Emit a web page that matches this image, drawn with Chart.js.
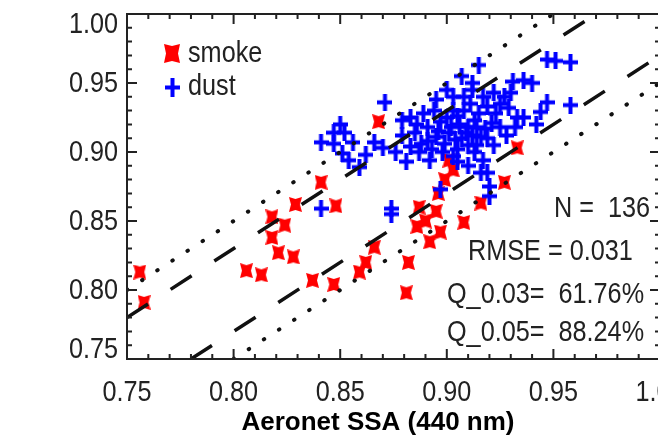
<!DOCTYPE html>
<html>
<head>
<meta charset="utf-8">
<script src="https://cdn.jsdelivr.net/npm/chart.js@4"></script>
<style>
  html, body { margin: 0; padding: 0; background: #fff; overflow: hidden; }
  #wrap { width: 720px; height: 438px; }
</style>
</head>
<body>
<div id="wrap"><canvas id="ssa"></canvas></div>
<script>
// smoke points (red)
const smokeX = [0.756, 0.758, 0.806, 0.813, 0.818, 0.824, 0.818, 0.821, 0.828, 0.829,
                0.837, 0.841, 0.848, 0.847, 0.868, 0.887, 0.886, 0.895, 0.892, 0.897,
                0.896, 0.908, 0.916, 0.866, 0.862, 0.859, 0.882, 0.881, 0.901, 0.903,
                0.933, 0.927, 0.890, 0.899];
const smokeY = [0.813, 0.791, 0.814, 0.811, 0.853, 0.847, 0.838, 0.827, 0.824, 0.862,
                0.807, 0.878, 0.861, 0.804, 0.922, 0.860, 0.846, 0.857, 0.835, 0.842,
                0.870, 0.849, 0.863, 0.831, 0.820, 0.813, 0.820, 0.798, 0.894, 0.887,
                0.903, 0.878, 0.850, 0.880];

// dust points (blue)
const dustX = [0.841, 0.847, 0.850, 0.852, 0.847, 0.856, 0.851, 0.854, 0.859, 0.866,
               0.841, 0.874, 0.871, 0.879, 0.915, 0.907, 0.947, 0.958, 0.951, 0.903,
               0.895, 0.912, 0.931, 0.936, 0.940, 0.930, 0.947, 0.958, 0.936, 0.942,
               0.883, 0.889, 0.883, 0.891, 0.900, 0.908, 0.913, 0.919, 0.923, 0.927,
               0.909, 0.916, 0.904, 0.917, 0.919, 0.892, 0.920, 0.901, 0.895, 0.933,
               0.921, 0.920, 0.874, 0.897, 0.885, 0.888, 0.893, 0.898, 0.905, 0.910,
               0.913, 0.906, 0.911, 0.903, 0.897, 0.915, 0.918, 0.925, 0.910, 0.902,
               0.907, 0.912, 0.886, 0.879, 0.917, 0.922, 0.929, 0.910, 0.905, 0.914,
               0.899, 0.922, 0.928, 0.944, 0.900, 0.912, 0.894, 0.862, 0.870, 0.876,
               0.881, 0.916, 0.896, 0.905, 0.914, 0.903, 0.925, 0.919, 0.891, 0.908,
               0.932, 0.887];
const dustY = [0.907, 0.914, 0.920, 0.914, 0.906, 0.907, 0.899, 0.894, 0.889, 0.907,
               0.859, 0.859, 0.936, 0.923, 0.963, 0.955, 0.967, 0.965, 0.966, 0.940,
               0.938, 0.945, 0.951, 0.952, 0.950, 0.943, 0.936, 0.934, 0.925, 0.920,
               0.925, 0.928, 0.904, 0.918, 0.925, 0.930, 0.923, 0.933, 0.928, 0.940,
               0.914, 0.911, 0.909, 0.894, 0.885, 0.894, 0.875, 0.914, 0.911, 0.925,
               0.921, 0.868, 0.855, 0.873, 0.914, 0.906, 0.902, 0.900, 0.902, 0.905,
               0.900, 0.920, 0.935, 0.930, 0.922, 0.928, 0.917, 0.918, 0.918, 0.918,
               0.910, 0.912, 0.920, 0.912, 0.940, 0.943, 0.932, 0.890, 0.893, 0.905,
               0.906, 0.905, 0.912, 0.929, 0.945, 0.950, 0.930, 0.898, 0.903, 0.900,
               0.893, 0.885, 0.915, 0.926, 0.918, 0.897, 0.935, 0.910, 0.908, 0.940,
               0.918, 0.900];

const tickValues = [0.75, 0.80, 0.85, 0.90, 0.95, 1.00];
const tickLabels = ['0.75', '0.80', '0.85', '0.90', '0.95', '1.00'];
const dashedOffsets = [0.03, -0.03];
const dottedOffsets = [0.05, -0.05];
const statLines = ['N =  136', 'RMSE = 0.031', 'Q_0.03=  61.76%', 'Q_0.05=  88.24%'];
const legendNames = ['smoke', 'dust'];
const axisTitle = 'Aeronet SSA (440 nm)';

const lo = 0.75, hi = 1.0;

function makeMarker(kind, w, h) {
    const c = document.createElement('canvas');
    c.width = w; c.height = h;
    const g = c.getContext('2d');
    if (kind === 'x') {
        // blocky filled "X" like the IDL symbol
        const n = 2;
        g.fillStyle = '#f00';
        g.beginPath();
        g.moveTo(0, 0); g.lineTo(w / 2, n); g.lineTo(w, 0); g.lineTo(w - n, h / 2);
        g.lineTo(w, h); g.lineTo(w / 2, h - n); g.lineTo(0, h); g.lineTo(n, h / 2);
        g.closePath();
        g.fill();
    } else {
        g.strokeStyle = '#00f';
        g.lineWidth = 4;
        g.beginPath();
        g.moveTo(w / 2, 0); g.lineTo(w / 2, h);
        g.moveTo(0, h / 2); g.lineTo(w, h / 2);
        g.stroke();
    }
    return c;
}

const smokeMark = makeMarker('x', 13, 15);
const dustMark = makeMarker('+', 15, 17);

function toPoints(xs, ys) {
    return xs.map((v, i) => ({ x: v, y: ys[i] }));
}

// one-to-one offset lines, cut at the plot box
function refLine(off, dash, cap, width) {
    const x0 = Math.max(lo, lo - off), x1 = Math.min(hi, hi - off);
    return {
        data: [{ x: x0, y: x0 + off }, { x: x1, y: x1 + off }],
        showLine: true,
        pointRadius: 0,
        borderColor: '#111',
        borderWidth: width,
        borderDash: dash,
        borderCapStyle: cap,
        clip: 0,
        order: 0
    };
}

const lineSets = [
    ...dashedOffsets.map(o => refLine(o, [25, 27], 'butt', 3.5)),
    ...dottedOffsets.map(o => refLine(o, [0.5, 17.5], 'round', 4))
];

function squeezed(ctx, text, x, y, align) {
    ctx.save();
    ctx.translate(x, y);
    ctx.scale(0.87, 1);
    ctx.textAlign = align;
    ctx.fillText(text, 0, 0);
    ctx.restore();
}

const frame = {
    id: 'frame',
    afterDatasetsDraw(chart) {
        const { ctx, chartArea: a, scales: { x, y } } = chart;
        ctx.save();
        ctx.strokeStyle = '#222';
        ctx.lineWidth = 2;
        ctx.strokeRect(a.left, a.top, a.right - a.left, a.bottom - a.top);

        ctx.beginPath();
        for (let i = 0; i <= 25; i++) {
            const v = lo + i * 0.01;
            const len = i % 5 === 0 ? 10 : 5;
            const px = x.getPixelForValue(v), py = y.getPixelForValue(v);
            ctx.moveTo(px, a.bottom); ctx.lineTo(px, a.bottom - len);
            ctx.moveTo(px, a.top); ctx.lineTo(px, a.top + len);
            ctx.moveTo(a.left, py); ctx.lineTo(a.left + len, py);
            ctx.moveTo(a.right, py); ctx.lineTo(a.right - len, py);
        }
        ctx.stroke();

        // tick labels
        ctx.fillStyle = '#222';
        ctx.font = '29px "Liberation Sans", Arial, sans-serif';
        ctx.textBaseline = 'middle';
        tickValues.forEach((v, i) => {
            const px = x.getPixelForValue(v);
            squeezed(ctx, tickLabels[i], px, a.bottom + 34, 'center');
            let py = y.getPixelForValue(v);
            py = Math.min(Math.max(py, a.top + 10), a.bottom - 10);
            squeezed(ctx, tickLabels[i], a.left - 9, py + 1, 'right');
        });

        // stats block
        const statX = [554, 468, 447, 447];
        const statY = [209, 252, 295, 333];
        statLines.forEach((s, i) => squeezed(ctx, s, statX[i], statY[i], 'left'));

        // legend
        ctx.drawImage(makeMarker('x', 16, 19), 164, 44);
        ctx.drawImage(makeMarker('+', 15, 19), 165, 78);
        ctx.textBaseline = 'alphabetic';
        squeezed(ctx, legendNames[0], 188, 62, 'left');
        squeezed(ctx, legendNames[1], 188, 95, 'left');

        // axis title
        ctx.fillStyle = '#000';
        ctx.font = 'bold 26px "Liberation Sans", Arial, sans-serif';
        ctx.textBaseline = 'middle';
        ctx.textAlign = 'center';
        ctx.fillText(axisTitle, a.left + 251, a.bottom + 64);
        ctx.restore();
    }
};

new Chart(document.getElementById('ssa'), {
    type: 'scatter',
    data: {
        datasets: [
            ...lineSets,
            { label: 'dust', data: toPoints(dustX, dustY), pointStyle: dustMark, pointRadius: 7, order: 1 },
            { label: 'smoke', data: toPoints(smokeX, smokeY), pointStyle: smokeMark, pointRadius: 7, order: 2 }
        ]
    },
    options: {
        responsive: true,
        maintainAspectRatio: false,
        animation: false,
        layout: { padding: { left: 0, right: 60, top: 14, bottom: 0 } },
        plugins: { legend: { display: false }, tooltip: { enabled: false } },
        scales: {
            x: {
                type: 'linear', min: lo, max: hi,
                grid: { display: false }, border: { display: false },
                ticks: { display: false },
                afterFit: s => { s.height = 79; }
            },
            y: {
                type: 'linear', min: lo, max: hi,
                grid: { display: false }, border: { display: false },
                ticks: { display: false },
                afterFit: s => { s.width = 127; }
            }
        }
    },
    plugins: [frame]
});
</script>
</body>
</html>
